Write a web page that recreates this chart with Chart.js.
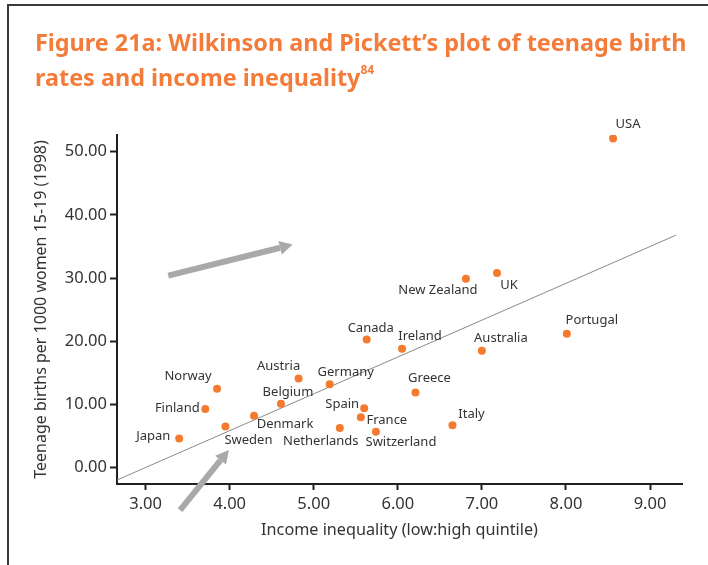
<!DOCTYPE html>
<html>
<head>
<meta charset="utf-8">
<script src="https://cdn.jsdelivr.net/npm/chart.js@4"></script>
<style>
body { margin: 0; background: #fff; }
#wrap { position: relative; width: 708px; height: 565px; overflow: hidden; }
#frame { position: absolute; left: 7px; top: 4px; right: 0; bottom: 0; border-top: 2px solid #3a3a3a; border-left: 2px solid #3a3a3a; }
#title { position: absolute; left: 35px; top: 25px; margin: 0; font: bold 23.4px "Noto Sans"; color: #F47C3A; line-height: 35px; white-space: nowrap; }
#title sup { font-size: 12px; vertical-align: top; line-height: 1; position: relative; top: 4px; }
canvas { position: absolute; left: 0; top: 0; }
</style>
</head>
<body>
<div id="wrap">
  <div id="frame"></div>
  <canvas id="scatter" width="708" height="565"></canvas>
  <h1 id="title">Figure 21a: Wilkinson and Pickett’s plot of teenage birth<br>rates and income inequality<sup>84</sup></h1>
</div>
<script>
const countries = ['USA', 'UK', 'New Zealand', 'Canada', 'Ireland', 'Australia', 'Portugal', 'Greece', 'Italy',
  'Norway', 'Finland', 'Japan', 'Sweden', 'Denmark', 'Belgium', 'Austria', 'Germany', 'Netherlands',
  'Spain', 'France', 'Switzerland'];
const inequality = [8.56, 7.18, 6.81, 5.63, 6.05, 7.00, 8.01, 6.21, 6.65,
  3.85, 3.71, 3.40, 3.95, 4.29, 4.61, 4.82, 5.19, 5.31,
  5.60, 5.56, 5.74];
const teenBirths = [52.1, 30.8, 29.9, 20.3, 18.8, 18.5, 21.2, 11.9, 6.7,
  12.5, 9.3, 4.6, 6.5, 8.2, 10.1, 14.1, 13.2, 6.3,
  9.4, 8.0, 5.7];

const xTicks = [3, 4, 5, 6, 7, 8, 9];
const yTicks = [0, 10, 20, 30, 40, 50];

// fitted line, two ends
const trendX = [2.66, 9.31];
const trendY = [-1.95, 36.8];

// the two grey arrows, start and tip in data units
const arrowFromX = [3.27, 3.41];
const arrowFromY = [30.4, -6.7];
const arrowToX = [4.75, 3.99];
const arrowToY = [35.3, 2.8];

// label placement, pixel nudge of the text centre from the point
const labelNudge = {
  'USA': [15, -14], 'UK': [12, 12], 'New Zealand': [-28, 12], 'Canada': [4, -11],
  'Ireland': [18, -13], 'Australia': [19, -12], 'Portugal': [25, -13], 'Greece': [14, -14],
  'Italy': [19, -11], 'Norway': [-29, -12], 'Finland': [-28, -1], 'Japan': [-26, -2],
  'Sweden': [23, 14], 'Denmark': [31, 8], 'Belgium': [7, -12], 'Austria': [-20, -12],
  'Germany': [16, -12], 'Netherlands': [-19, 13], 'Spain': [-22, -4], 'France': [26, 3],
  'Switzerland': [25, 11]
};

const orange = '#F47B2E';
const axisColor = '#231F20';
const textColor = '#333333';
const font = 'Noto Sans';

const pointLabels = {
  id: 'pointLabels',
  afterDatasetsDraw(chart) {
    const ctx = chart.ctx;
    const xs = chart.scales.x, ys = chart.scales.y;
    ctx.save();
    ctx.font = '13px "' + font + '"';
    ctx.fillStyle = textColor;
    ctx.textAlign = 'center';
    ctx.textBaseline = 'middle';
    countries.forEach((c, i) => {
      const n = labelNudge[c];
      ctx.fillText(c, xs.getPixelForValue(inequality[i]) + n[0], ys.getPixelForValue(teenBirths[i]) + n[1]);
    });
    ctx.restore();
  }
};

const arrows = {
  id: 'arrows',
  afterDatasetsDraw(chart) {
    const ctx = chart.ctx;
    const xs = chart.scales.x, ys = chart.scales.y;
    ctx.save();
    ctx.fillStyle = '#A9A9AC';
    ctx.strokeStyle = '#A9A9AC';
    ctx.lineWidth = 6;
    for (let i = 0; i < arrowFromX.length; i++) {
      const x1 = xs.getPixelForValue(arrowFromX[i]), y1 = ys.getPixelForValue(arrowFromY[i]);
      const x2 = xs.getPixelForValue(arrowToX[i]), y2 = ys.getPixelForValue(arrowToY[i]);
      const a = Math.atan2(y2 - y1, x2 - x1);
      const head = 13, half = 7;
      const bx = x2 - head * Math.cos(a), by = y2 - head * Math.sin(a);
      ctx.beginPath();
      ctx.moveTo(x1, y1);
      ctx.lineTo(bx, by);
      ctx.stroke();
      ctx.beginPath();
      ctx.moveTo(x2, y2);
      ctx.lineTo(bx + half * Math.sin(a), by - half * Math.cos(a));
      ctx.lineTo(bx - half * Math.sin(a), by + half * Math.cos(a));
      ctx.closePath();
      ctx.fill();
    }
    ctx.restore();
  }
};

const ctx = document.getElementById('scatter').getContext('2d');
new Chart(ctx, {
  type: 'scatter',
  data: {
    datasets: [{
      label: 'Countries',
      data: inequality.map((v, i) => ({ x: v, y: teenBirths[i] })),
      backgroundColor: orange,
      borderColor: orange,
      pointRadius: 4,
      borderWidth: 0
    }, {
      type: 'line',
      label: 'Trend',
      data: trendX.map((v, i) => ({ x: v, y: trendY[i] })),
      borderColor: '#8a8a8a',
      borderWidth: 1,
      pointRadius: 0,
      fill: false
    }]
  },
  options: {
    responsive: false,
    animation: false,
    layout: { padding: { top: 135, right: 26, left: 0, bottom: 0 } },
    plugins: {
      legend: { display: false },
      tooltip: { enabled: false }
    },
    scales: {
      x: {
        type: 'linear',
        min: 2.66,
        max: 9.38,
        afterBuildTicks: s => { s.ticks = xTicks.map(v => ({ value: v })); },
        afterFit: s => { s.height = 81; },
        border: { display: true, color: axisColor, width: 2 },
        grid: { drawOnChartArea: false, drawTicks: true, tickLength: 6, tickColor: axisColor, tickWidth: 2 },
        ticks: {
          color: textColor, padding: 4,
          font: { family: font, size: 16.5 },
          callback: v => v.toFixed(2)
        },
        title: {
          display: true,
          text: 'Income inequality (low:high quintile)',
          color: textColor,
          font: { family: font, size: 16.2 },
          padding: { top: 0, bottom: 25 }
        }
      },
      y: {
        type: 'linear',
        min: -2.58,
        max: 52.64,
        afterBuildTicks: s => { s.ticks = yTicks.map(v => ({ value: v })); },
        afterFit: s => { s.width = 117; },
        border: { display: true, color: axisColor, width: 2 },
        grid: { drawOnChartArea: false, drawTicks: true, tickLength: 7, tickColor: axisColor, tickWidth: 2 },
        ticks: {
          color: textColor, padding: 3,
          font: { family: font, size: 16.5 },
          callback: v => v.toFixed(2)
        },
        title: {
          display: true,
          text: 'Teenage births per 1000 women 15-19 (1998)',
          color: textColor,
          font: { family: font, size: 16 },
          padding: { top: 32, bottom: 0 }
        }
      }
    }
  },
  plugins: [arrows, pointLabels]
});
</script>
</body>
</html>
